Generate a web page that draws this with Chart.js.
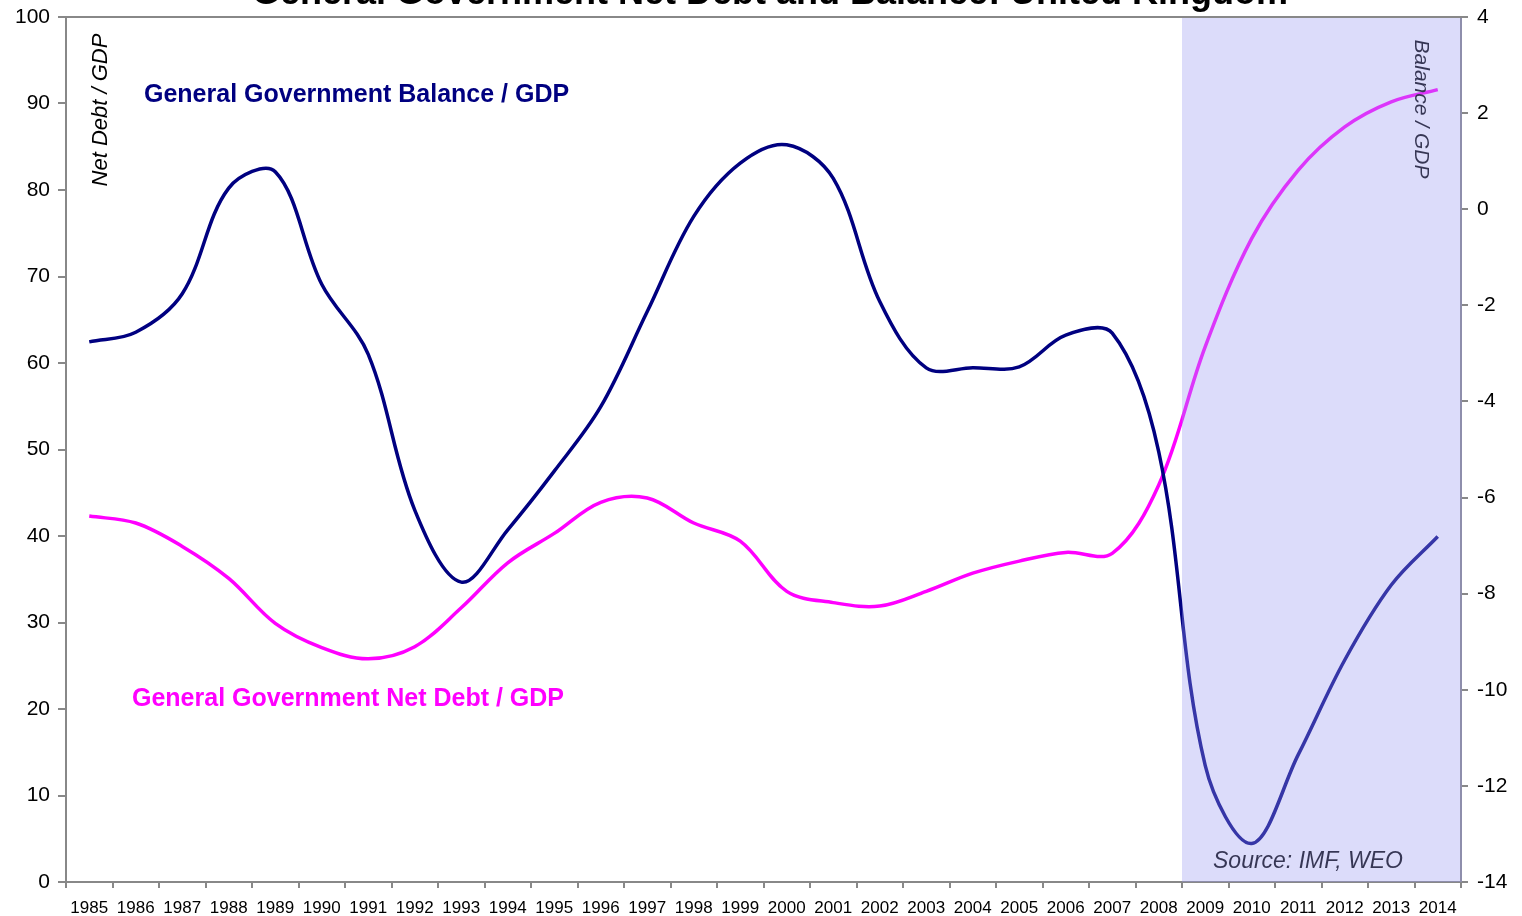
<!DOCTYPE html>
<html>
<head>
<meta charset="utf-8">
<title>General Government Net Debt and Balance: United Kingdom</title>
<script src="https://cdn.jsdelivr.net/npm/chart.js@4"></script>
<style>
    html, body { margin: 0; padding: 0; background: #ffffff; }
    #wrap { width: 1522px; height: 916px; position: relative; }
</style>
</head>
<body>
<div id="wrap"><canvas id="ukDebt"></canvas></div>
<script>
const years = ['1985', '1986', '1987', '1988', '1989', '1990', '1991', '1992', '1993', '1994',
    '1995', '1996', '1997', '1998', '1999', '2000', '2001', '2002', '2003', '2004',
    '2005', '2006', '2007', '2008', '2009', '2010', '2011', '2012', '2013', '2014'];

// balance / GDP (right axis)
const balance = [-2.76, -2.56, -1.76, 0.44, 0.78, -1.56, -3.02, -6.26, -7.76, -6.67,
    -5.45, -4.11, -2.13, -0.15, 0.96, 1.34, 0.64, -1.92, -3.30, -3.30,
    -3.28, -2.62, -2.58, -5.05, -11.58, -13.2, -11.35, -9.38, -7.82, -6.81];

// net debt / GDP (left axis)
const netDebt = [42.3, 41.5, 38.8, 35.1, 29.9, 27.1, 25.8, 27.2, 31.7, 36.9,
    40.3, 43.9, 44.4, 41.5, 39.4, 33.6, 32.3, 31.9, 33.6, 35.7,
    37.1, 38.1, 38.0, 45.9, 61.9, 74.4, 82.3, 87.3, 90.2, 91.6];

const leftTicks = [0, 100, 10];
const rightTicks = [-14, 4, 2];
const shadeFrom = '2009';

document.addEventListener("DOMContentLoaded", displayChart);

function displayChart(){
    let ctx = document.getElementById('ukDebt').getContext('2d');
    const fontFamily = 'Arial, "Liberation Sans", sans-serif';

    const extras = {
        id: 'extras',
        afterDatasetsDraw(chart) {
            const c = chart.ctx;
            const area = chart.chartArea;
            const x = chart.scales.x;
            const idx = years.indexOf(shadeFrom);
            const left = x.getPixelForValue(idx) - (x.getPixelForValue(1) - x.getPixelForValue(0)) / 2;

            c.save();
            // texts that sit under the shaded band
            c.fillStyle = '#000000';
            c.font = 'italic 21px ' + fontFamily;
            c.textAlign = 'center';
            c.textBaseline = 'middle';
            c.save();
            c.translate(1421, 109);
            c.rotate(Math.PI / 2);
            c.fillText('Balance / GDP', 0, 0);
            c.restore();
            c.font = 'italic 23px ' + fontFamily;
            c.fillText('Source: IMF, WEO', 1308, 862);

            // shaded forecast band
            c.fillStyle = 'rgba(156, 156, 241, 0.35)';
            c.fillRect(left, area.top + 1, area.right + 1 - left, area.bottom - area.top - 1);

            // other labels
            c.fillStyle = '#000000';
            c.font = 'italic 22px ' + fontFamily;
            c.save();
            c.translate(101, 110);
            c.rotate(-Math.PI / 2);
            c.fillText('Net Debt / GDP', 0, 0);
            c.restore();

            c.textAlign = 'left';
            c.font = 'bold 25px ' + fontFamily;
            c.fillStyle = '#000080';
            c.fillText('General Government Balance / GDP', 144, 95);
            c.fillStyle = '#ff00ff';
            c.fillText('General Government Net Debt / GDP', 132, 699);

            // title, mostly cut off at the top
            c.fillStyle = '#000000';
            c.textAlign = 'center';
            c.textBaseline = 'alphabetic';
            c.font = 'bold 36px ' + fontFamily;
            c.fillText('General Government Net Debt and Balance: United Kingdom', 770, 4);

            // top frame line
            c.strokeStyle = '#888888';
            c.lineWidth = 2;
            c.beginPath();
            c.moveTo(area.left, area.top);
            c.lineTo(area.right, area.top);
            c.stroke();
            c.restore();
        }
    };

    const chartData = {
        labels: years,
        datasets: [
            {
                label: 'General Government Balance / GDP',
                data: balance,
                yAxisID: 'y1',
                borderColor: '#000080',
                borderWidth: 3.5,
                pointRadius: 0,
                tension: 0.35,
                fill: false
            },
            {
                label: 'General Government Net Debt / GDP',
                data: netDebt,
                yAxisID: 'y',
                borderColor: '#ff00ff',
                borderWidth: 3.5,
                pointRadius: 0,
                tension: 0.35,
                fill: false
            }
        ]
    };

    const config = {
        type: 'line',
        data: chartData,
        options: {
            responsive: false,
            animation: false,
            layout: {
                padding: { left: 0, right: 0, top: 17, bottom: 0 }
            },
            plugins: {
                legend: { display: false },
                tooltip: { enabled: false }
            },
            scales: {
                x: {
                    offset: true,
                    grid: {
                        offset: true,
                        drawOnChartArea: false,
                        color: '#888888',
                        tickLength: 6,
                        lineWidth: 2
                    },
                    border: { color: '#888888', width: 2 },
                    ticks: {
                        color: '#000000',
                        padding: 10,
                        maxRotation: 0,
                        autoSkip: false,
                        font: { family: fontFamily, size: 17 }
                    },
                    afterFit(scale) { scale.height = 34; }
                },
                y: {
                    position: 'left',
                    min: leftTicks[0],
                    max: leftTicks[1],
                    ticks: {
                        stepSize: leftTicks[2],
                        color: '#000000',
                        padding: 8,
                        font: { family: fontFamily, size: 21 }
                    },
                    grid: {
                        drawOnChartArea: false,
                        color: '#888888',
                        tickLength: 8,
                        lineWidth: 2
                    },
                    border: { color: '#888888', width: 2 },
                    afterFit(scale) {
                        scale.width = 66;
                        scale.paddingTop = 0;
                        scale.paddingBottom = 0;
                    }
                },
                y1: {
                    position: 'right',
                    min: rightTicks[0],
                    max: rightTicks[1],
                    ticks: {
                        stepSize: rightTicks[2],
                        color: '#000000',
                        padding: 9,
                        font: { family: fontFamily, size: 21 }
                    },
                    grid: {
                        drawOnChartArea: false,
                        color: '#888888',
                        tickLength: 7,
                        lineWidth: 2
                    },
                    border: { color: '#888888', width: 2 },
                    afterFit(scale) {
                        scale.width = 61;
                        scale.paddingTop = 0;
                        scale.paddingBottom = 0;
                    }
                }
            }
        },
        plugins: [extras]
    };

    let canvas = document.getElementById('ukDebt');
    canvas.width = 1522;
    canvas.height = 916;
    let chart = new Chart(ctx, config);
};
</script>
</body>
</html>
